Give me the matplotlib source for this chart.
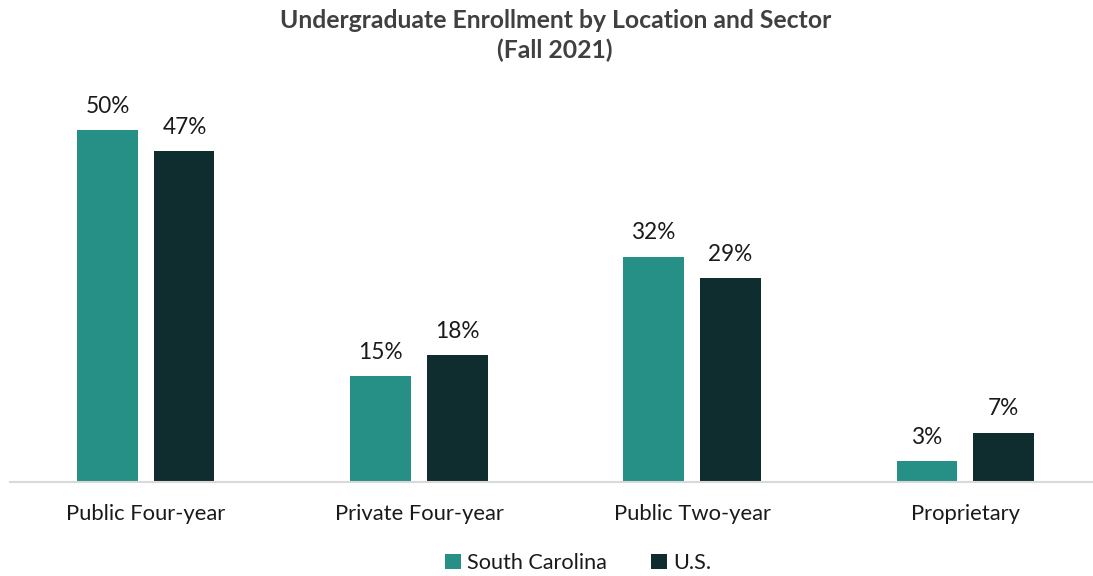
import matplotlib
matplotlib.use("Agg")
import matplotlib.pyplot as plt
import numpy as np

categories = ["Public Four-year", "Private Four-year", "Public Two-year", "Proprietary"]
south_carolina = [50, 15, 32, 3]
us = [47, 18, 29, 7]
series_names = ["South Carolina", "U.S."]

teal = "#268F86"
dark = "#0F2C2E"
font = ["Lato", "DejaVu Sans"]

W, H = 1093, 576
fig = plt.figure(figsize=(W / 100, H / 100), dpi=100)
ax = fig.add_axes([10 / W, (H - 482) / H, 1091 / W, (482 - 95) / H])

x = np.arange(len(categories))
bw = 0.22
off = 0.141
b1 = ax.bar(x - off, south_carolina, bw, color=teal, label=series_names[0])
b2 = ax.bar(x + off, us, bw, color=dark, label=series_names[1])

for bars, vals in ((b1, south_carolina), (b2, us)):
    for r, v in zip(bars, vals):
        ax.text(r.get_x() + r.get_width() / 2, v + 1.9, f"{v}%", ha="center",
                va="bottom", fontsize=16.3, color="#1a1a1a", family=font)

ax.set_xlim(-0.498, 3.498)
ax.set_ylim(0, 55)
ax.set_yticks([])
ax.set_xticks(x)
ax.set_xticklabels(categories, fontsize=15.8, color="#1a1a1a", family=font)
ax.tick_params(axis="x", length=0, pad=16)
for s in ("top", "right", "left"):
    ax.spines[s].set_visible(False)
ax.spines["bottom"].set_color("#d9d9d9")
ax.spines["bottom"].set_linewidth(1.5)

fig.text(0.508, 1 - 20 / H, "Undergraduate Enrollment by Location and Sector",
         ha="center", va="center", fontsize=17.8, fontweight="bold", color="#404040", family=font)
fig.text(0.508, 1 - 50 / H, "(Fall 2021)",
         ha="center", va="center", fontsize=17.8, fontweight="bold", color="#404040", family=font)

fig.legend(handles=[b1, b2], labels=series_names, loc="center", ncol=2,
           bbox_to_anchor=(578 / W, 1 - 563 / H), frameon=False,
           prop={"family": font, "size": 15.6}, handlelength=0.75, handleheight=0.75,
           handletextpad=0.3, columnspacing=2.0, labelcolor="#1a1a1a")

fig.savefig("out.png", dpi=100)
